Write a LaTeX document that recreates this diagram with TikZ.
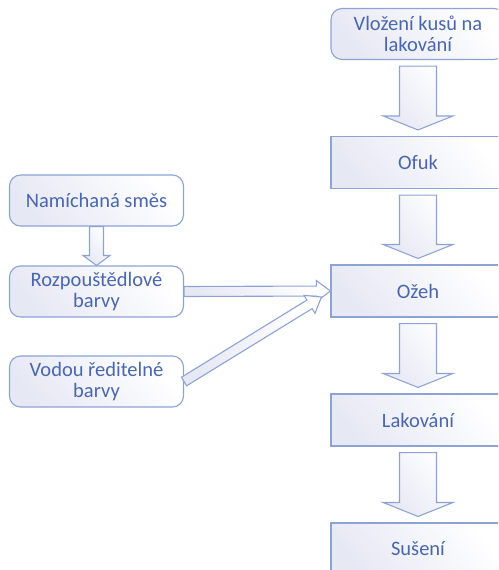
\documentclass[tikz,border=0pt]{standalone}
\usepackage{fontspec}
\setmainfont{Carlito}
\usetikzlibrary{calc}
\definecolor{edgeblue}{HTML}{8DA3D4}
\definecolor{textblue}{HTML}{4A66AC}
\definecolor{paleblue}{HTML}{E6E8F4}
\tikzset{
  box/.style={draw=edgeblue, line width=1.1pt, top color=white, bottom color=paleblue,
    shading angle=-50, text=textblue, align=center, inner sep=0pt,
    font=\fontsize{20.5}{21}\selectfont},
  sqbox/.style={box, minimum width=174pt, minimum height=52pt},
  rbox/.style={box, rounded corners=11pt, minimum width=174pt, minimum height=51pt},
  flow/.style={draw=edgeblue, line width=1.1pt, line join=miter, top color=white,
    bottom color=paleblue, shading angle=-50},
}
% hollow block arrow: start, end, shaft half width, head half width, head length
\newcommand{\blockarrow}[5]{%
  \coordinate (hb) at ($(#2)!#5!(#1)$);
  \path[flow] ($(#1)!#3!90:(#2)$) -- ($(hb)!#3!90:(#2)$) -- ($(hb)!#4!90:(#2)$)
    -- (#2) -- ($(hb)!#4!-90:(#2)$) -- ($(hb)!#3!-90:(#2)$) -- ($(#1)!#3!-90:(#2)$) -- cycle;
}
\begin{document}
\begin{tikzpicture}[x=1pt,y=-1pt]
\useasboundingbox (0,0) rectangle (498,570);
\clip (0,0) rectangle (498,570);

% main process column
\node[rbox] (vloz) at (418,34) {Vložení kusů na\\lakování};
\node[sqbox] (ofuk) at (418,162.5) {Ofuk};
\node[sqbox] (ozeh) at (418,291) {Ožeh};
\node[sqbox] (lak) at (418,420) {Lakování};
\node[sqbox] (sus) at (418,549) {Sušení};

% paint preparation
\node[rbox] (mix) at (96.5,200.5) {Namíchaná směs};
\node[rbox] (rozp) at (96.5,291.5) {Rozpouštědlové\\barvy};
\node[rbox] (voda) at (96.5,381.5) {Vodou ředitelné\\barvy};

% arrows down the main column
\coordinate (a1s) at ($(vloz.south)+(0,6)$);
\coordinate (a1e) at ($(ofuk.north)+(0,-6)$);
\blockarrow{a1s}{a1e}{18.5pt}{35pt}{14pt}
\coordinate (a2s) at ($(ofuk.south)+(0,6)$);
\coordinate (a2e) at ($(ozeh.north)+(0,-6)$);
\blockarrow{a2s}{a2e}{18.5pt}{35pt}{14pt}
\coordinate (a3s) at ($(ozeh.south)+(0,6)$);
\coordinate (a3e) at ($(lak.north)+(0,-6)$);
\blockarrow{a3s}{a3e}{18.5pt}{35pt}{14pt}
\coordinate (a4s) at ($(lak.south)+(0,6)$);
\coordinate (a4e) at ($(sus.north)+(0,-6)$);
\blockarrow{a4s}{a4e}{18.5pt}{35pt}{14pt}

% mixture to solvent paints
\blockarrow{mix.south}{rozp.north}{7pt}{13.5pt}{10pt}

% paints into flaming
\blockarrow{rozp.east}{ozeh.west}{5pt}{10.5pt}{14pt}
\coordinate (dtip) at ($(ozeh.west)+(-9,6)$);
\blockarrow{voda.east}{dtip}{5pt}{10.5pt}{14pt}
\end{tikzpicture}
\end{document}
